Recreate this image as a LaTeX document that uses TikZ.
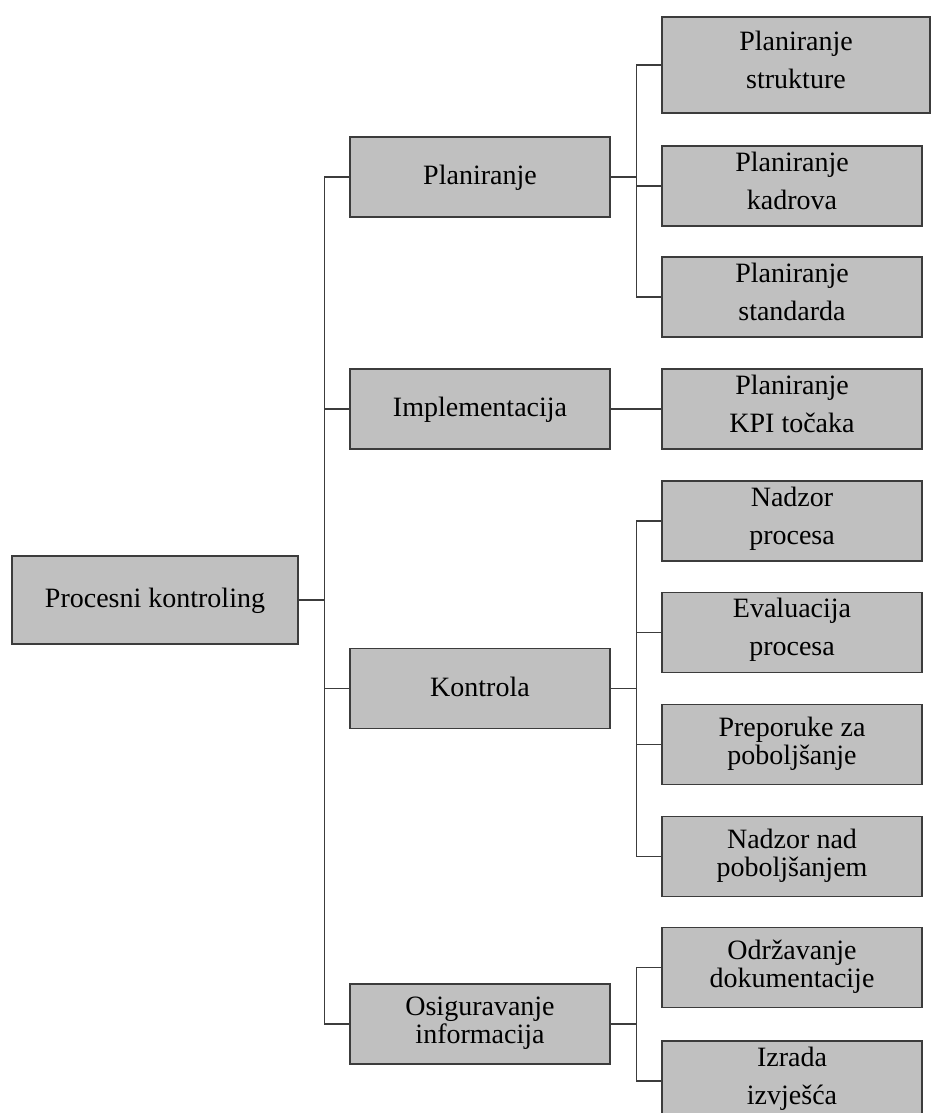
\documentclass[tikz,border=0pt]{standalone}
\usepackage{fontspec}
\setmainfont{Liberation Serif}
\definecolor{boxgray}{RGB}{192,192,192}
\definecolor{linegray}{RGB}{60,60,60}
\begin{document}
\begin{tikzpicture}[x=1pt, y=1pt,
  box/.style={draw=linegray, line width=1.5pt, fill=boxgray, minimum width=260pt, minimum height=80pt,
    inner sep=0pt, align=center, font=\fontsize{28}{38}\selectfont,
    execute at begin node=\strut, execute at end node=\strut},
  tight/.style={font=\fontsize{28}{28}\selectfont},
  link/.style={draw=linegray, line width=1.2pt}]
\useasboundingbox (0,0) rectangle (931,-1113);
% root and first level
\node[box, minimum width=286pt, minimum height=88pt] (pk) at (155,-600) {Procesni kontroling};
\node[box] (plan) at (480,-177) {Planiranje};
\node[box] (impl) at (480,-409) {Implementacija};
\node[box] (kontr) at (480,-688.5) {Kontrola};
\node[box, tight] (osig) at (480,-1024) {Osiguravanje\\informacija};
% second level
\node[box, minimum width=268pt, minimum height=96pt] (strukt) at (796,-65) {Planiranje\\strukture};
\node[box] (kadr) at (792,-186) {Planiranje\\kadrova};
\node[box] (stand) at (792,-297) {Planiranje\\standarda};
\node[box] (kpi) at (792,-409) {Planiranje\\KPI točaka};
\node[box] (nadz) at (792,-521) {Nadzor\\procesa};
\node[box] (eval) at (792,-632.5) {Evaluacija\\procesa};
\node[box, tight] (prep) at (792,-744.5) {Preporuke za\\poboljšanje};
\node[box, tight] (npob) at (792,-856.5) {Nadzor nad\\poboljšanjem};
\node[box, tight] (odrz) at (792,-967.5) {Održavanje\\dokumentacije};
\node[box] (izv) at (792,-1081) {Izrada\\izvješća};
% connectors
\draw[link] (pk.east) -- ++(26,0) |- (plan.west);
\draw[link] (pk.east) -- ++(26,0) |- (impl.west);
\draw[link] (pk.east) -- ++(26,0) |- (kontr.west);
\draw[link] (pk.east) -- ++(26,0) |- (osig.west);
\draw[link] (plan.east) -- ++(26,0) |- (strukt.west);
\draw[link] (plan.east) -- ++(26,0) |- (kadr.west);
\draw[link] (plan.east) -- ++(26,0) |- (stand.west);
\draw[link] (impl.east) -- (kpi.west);
\draw[link] (kontr.east) -- ++(26,0) |- (nadz.west);
\draw[link] (kontr.east) -- ++(26,0) |- (eval.west);
\draw[link] (kontr.east) -- ++(26,0) |- (prep.west);
\draw[link] (kontr.east) -- ++(26,0) |- (npob.west);
\draw[link] (osig.east) -- ++(26,0) |- (odrz.west);
\draw[link] (osig.east) -- ++(26,0) |- (izv.west);
\end{tikzpicture}
\end{document}
